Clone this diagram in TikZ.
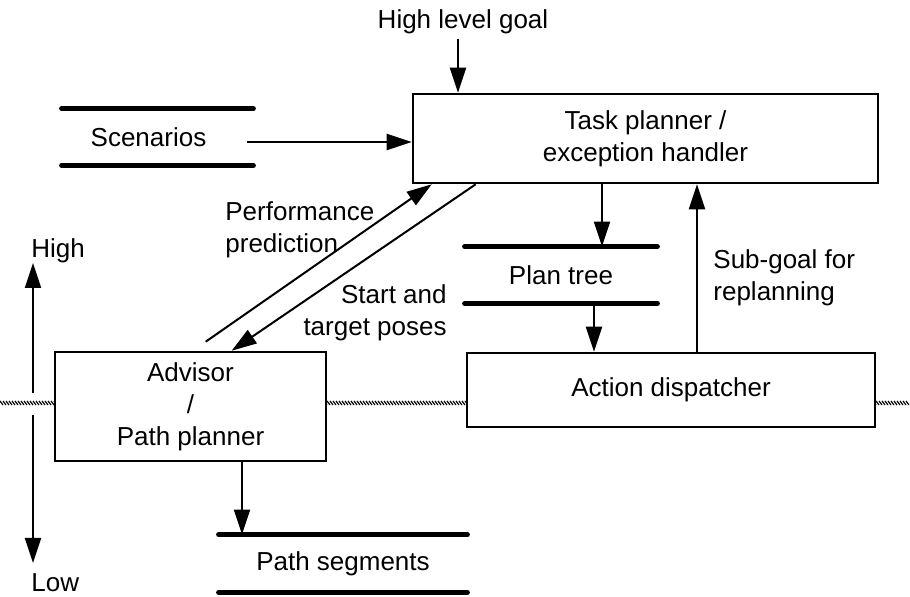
\documentclass[tikz,border=0pt]{standalone}
\usepackage{fontspec}
\setmainfont{Liberation Sans}
\usetikzlibrary{arrows.meta}

\begin{document}
\begin{tikzpicture}[x=0.5pt,y=-0.5pt,
  font=\fontsize{13pt}{16pt}\selectfont,
  box/.style={draw,line width=1.3pt,fill=white,align=center,inner sep=0pt},
  store/.style={inner sep=0pt},
  storeline/.style={line width=2.5pt,line cap=round},
  arr/.style={line width=1pt,-{Triangle[length=12.5pt,width=8pt]}},
  lbl/.style={inner sep=0pt}]
  \useasboundingbox (0,0) rectangle (910,597);
  % waterline
  \foreach \x in {0,3,...,906} \draw[line width=0.6pt] (\x,401) -- (\x+3,405);
  % boxes
  \node[box,minimum width=232.5pt,minimum height=44.5pt] (task) at (645.5,138.5) {Task planner /\\exception handler};
  \node[box,minimum width=204pt,minimum height=37pt] (disp) at (671,390) {Action dispatcher};
  \node[box,minimum width=135.5pt,minimum height=54.5pt] (adv) at (190.5,406.5) {Advisor\\/\\Path planner};
  % stores
  \node[store,minimum width=95.5pt,minimum height=28pt] (scen) at (157.5,137) {\hspace*{-9pt}Scenarios};
  \draw[storeline] (scen.north west) -- (scen.north east);
  \draw[storeline] (scen.south west) -- (scen.south east);
  \node[store,minimum width=96pt,minimum height=28pt] (plan) at (561,275) {Plan tree};
  \draw[storeline] (plan.north west) -- (plan.north east);
  \draw[storeline] (plan.south west) -- (plan.south east);
  \node[store,minimum width=124pt,minimum height=28.5pt] (segs) at (343,563.5) {Path segments};
  \draw[storeline] (segs.north west) -- (segs.north east);
  \draw[storeline] (segs.south west) -- (segs.south east);
  % labels
  \node[lbl] (goal) at (463,22) {High level goal};
  \node[lbl,align=left,anchor=west] (perf) at (225,230) {Performance\\prediction};
  \node[lbl,align=right,anchor=east] (poses) at (447,313) {Start and\\target poses};
  \node[lbl,align=left,anchor=west] (sub) at (713,278) {Sub-goal for\\replanning};
  \node[lbl,anchor=base west] (high) at (31,258) {High};
  \node[lbl,anchor=base west] (low) at (31,592) {Low};
  % level axis
  \coordinate (axtop) at (33,263);
  \coordinate (axup) at (33,393);
  \coordinate (axdown) at (33,415);
  \coordinate (axbot) at (33,563);
  \draw[arr] (axup) -- (axtop);
  \draw[arr] (axdown) -- (axbot);
  % flows
  \draw[arr] ([yshift=-2pt]goal.south -| 458,0) -- (458,0 |- task.north);
  \draw[arr] ([xshift=-3pt,yshift=-2.5pt]scen.east) -- ([yshift=-2.5pt]scen.east -| task.west);
  \draw[arr] ([xshift=20.5pt]plan.north |- task.south) -- ([xshift=20.5pt]plan.north);
  \draw[arr] ([xshift=16.5pt]plan.south) -- ([xshift=16.5pt]plan.south |- disp.north);
  \draw[arr] ([xshift=13pt]disp.north) -- ([xshift=13pt]disp.north |- task.south);
  \draw[arr] ([xshift=76pt,yshift=4.5pt]adv.north west) -- ([xshift=10pt]task.south west);
  \draw[arr] ([xshift=32pt]task.south west) -- ([xshift=89pt]adv.north west);
  \draw[arr] ([xshift=25.75pt]adv.south) -- ([xshift=25.75pt]adv.south |- segs.north);
\end{tikzpicture}
\end{document}
